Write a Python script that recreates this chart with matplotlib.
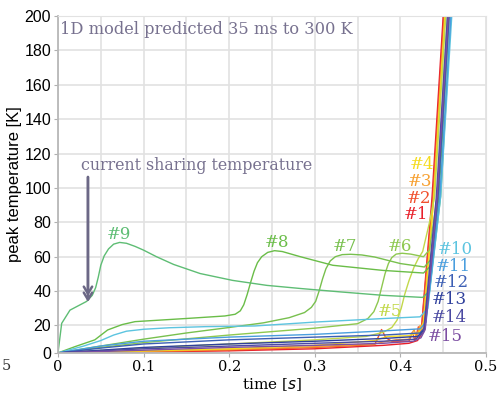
import numpy as np
import matplotlib
matplotlib.use("Agg")
import matplotlib.pyplot as plt

# peak temperature traces for the 15 cases, (time [s], temperature [K])
t1 = [0, 0.1, 0.2, 0.3, 0.38, 0.41, 0.42, 0.424, 0.437, 0.450, 0.455]
T1 = [0, 0.7, 1.5, 3, 5.5, 7, 9, 13, 95, 200, 240]
t2 = [0, 0.1, 0.2, 0.3, 0.37, 0.373, 0.378, 0.383, 0.39, 0.41, 0.414, 0.417, 0.421, 0.424, 0.438, 0.451, 0.456]
T2 = [0, 1, 2, 4, 6, 10, 17, 11, 8.5, 8.5, 15, 9, 19, 13, 95, 200, 240]
t3 = [0, 0.1, 0.2, 0.3, 0.37, 0.38, 0.395, 0.41, 0.416, 0.419, 0.423, 0.426, 0.439, 0.452, 0.457]
T3 = [0, 1.2, 2.5, 4.5, 6.5, 8, 9.5, 10, 17, 11, 20, 15, 95, 200, 240]
t4 = [0, 0.1, 0.2, 0.3, 0.37, 0.385, 0.41, 0.422, 0.427, 0.439, 0.452, 0.457]
T4 = [0, 1.5, 3, 5.5, 9, 12, 12.5, 15, 22, 95, 200, 240]
t5 = [0, 0.1, 0.2, 0.3, 0.36, 0.38, 0.39, 0.396, 0.401, 0.405, 0.41, 0.416, 0.421, 0.426, 0.434, 0.440, 0.453, 0.458]
T5 = [0, 3.5, 6.5, 9.5, 12, 15, 18.5, 23, 30, 38, 46, 54, 59, 63, 80, 95, 200, 240]
t6 = [0, 0.05, 0.1, 0.2, 0.3, 0.35, 0.362, 0.369, 0.374, 0.378, 0.382, 0.386, 0.39, 0.395, 0.402, 0.412, 0.427, 0.434, 0.443, 0.455, 0.46]
T6 = [0, 4, 7.5, 13, 18, 21, 24, 28, 34, 42, 50, 56, 59.5, 61.5, 62, 61.5, 60, 64, 95, 200, 240]
t7 = [0, 0.05, 0.1, 0.15, 0.2, 0.24, 0.27, 0.288, 0.296, 0.301, 0.305, 0.309, 0.313, 0.318, 0.324, 0.332, 0.342, 0.355, 0.37, 0.4, 0.428, 0.435, 0.444, 0.456, 0.461]
T7 = [0, 5, 10, 14.5, 18.5, 21.5, 24.5, 27.5, 30.5, 34, 40, 47, 53, 57.5, 60, 61.2, 61.4, 61, 59.8, 56, 54, 58, 95, 200, 240]
t8 = [0, 0.02, 0.043, 0.058, 0.075, 0.09, 0.152, 0.195, 0.207, 0.213, 0.217, 0.221, 0.225, 0.229, 0.233, 0.238, 0.245, 0.253, 0.262, 0.283, 0.321, 0.38, 0.427, 0.436, 0.445, 0.457, 0.462]
T8 = [0, 4.6, 9.5, 16.7, 20.5, 22.2, 24.1, 25.5, 26.5, 28.5, 32, 38, 45, 51.5, 56.5, 60, 62.5, 63.5, 63, 60, 55, 52, 50.5, 55, 95, 200, 240]
t9 = [0, 0.0043, 0.014, 0.0335, 0.04, 0.044, 0.047, 0.05, 0.054, 0.059, 0.065, 0.072, 0.08, 0.09, 0.1, 0.115, 0.135, 0.166, 0.204, 0.244, 0.283, 0.33, 0.38, 0.426, 0.434, 0.447, 0.459, 0.464]
T9 = [0, 21.2, 28.9, 34, 37.5, 42, 48, 55, 60.5, 64.5, 67.3, 68.3, 67.8, 66, 63.8, 60, 55.5, 50.2, 46.2, 43.3, 41.5, 39.5, 37.5, 36.3, 40, 95, 200, 240]
t10 = [0, 0.03, 0.05, 0.065, 0.08, 0.1, 0.13, 0.172, 0.23, 0.302, 0.38, 0.423, 0.432, 0.447, 0.460, 0.465]
T10 = [0, 5, 9, 13, 15.8, 17.2, 18.3, 19.1, 19.6, 22, 24, 25, 30, 95, 200, 240]
t11 = [0, 0.05, 0.1, 0.2, 0.3, 0.38, 0.423, 0.43, 0.446, 0.459, 0.464]
T11 = [0, 5, 8.5, 11.5, 13.5, 16, 17.5, 22, 95, 200, 240]
t12 = [0, 0.05, 0.1, 0.2, 0.3, 0.38, 0.423, 0.429, 0.444, 0.457, 0.462]
T12 = [0, 3.5, 6.5, 9.5, 11.5, 13, 14.5, 19, 95, 200, 240]
t13 = [0, 0.1, 0.2, 0.3, 0.38, 0.42, 0.428, 0.443, 0.456, 0.461]
T13 = [0, 4, 6.5, 8.5, 10.5, 12, 17, 95, 200, 240]
t14 = [0, 0.1, 0.2, 0.3, 0.38, 0.418, 0.427, 0.442, 0.455, 0.46]
T14 = [0, 3, 5, 7, 8.5, 10, 15, 95, 200, 240]
t15 = [0, 0.1, 0.2, 0.3, 0.38, 0.415, 0.424, 0.429, 0.443, 0.456, 0.461]
T15 = [0, 2, 4, 5.5, 7, 8.5, 11, 17, 95, 200, 240]

times = [t1, t2, t3, t4, t5, t6, t7, t8, t9, t10, t11, t12, t13, t14, t15]
temps = [T1, T2, T3, T4, T5, T6, T7, T8, T9, T10, T11, T12, T13, T14, T15]
names = ['#%d' % i for i in range(1, 16)]

colors = ['#e8202a', '#f0502e', '#f7a030', '#f5dc1e', '#c2d84a', '#8ec850',
          '#78c04e', '#6abd48', '#5ebd74', '#5cc4e0', '#4a9ede', '#3c5fb5',
          '#2f409c', '#4b4aa2', '#7c4ea2']
# where each case label sits (time, temperature)
label_pos = [(0.404, 84.6), (0.408, 93.9), (0.409, 103.8), (0.411, 113.7),
             (0.374, 28.1), (0.3855, 66), (0.321, 66), (0.2418, 68.3),
             (0.0572, 72.9), (0.444, 64.2), (0.4416, 54.3), (0.439, 45),
             (0.437, 35.1), (0.437, 24.7), (0.432, 11.6)]

annot = '#77718f'


# axis squeezes the first 20 K a bit
def fwd(y):
    y = np.asarray(y, dtype=float)
    return np.where(y < 20, y * 0.8, y - 4)


def inv(u):
    u = np.asarray(u, dtype=float)
    return np.where(u < 16, u / 0.8, u + 4)


fig = plt.figure(figsize=(5, 3.93), dpi=100)
ax = fig.add_axes([0.116, 0.102, 0.856, 0.857])
ax.set_yscale('function', functions=(fwd, inv))

for t, T, c in zip(times, temps, colors):
    ax.plot(t, T, color=c, lw=1.0)

for (x, y), n, c in zip(label_pos, names, colors):
    ax.text(x, y, n, color=c, fontsize=12, family='DejaVu Serif', ha='left', va='center')

ax.set_xlim(0, 0.5)
ax.set_ylim(0, 200)
ax.set_xticks(np.arange(0, 0.51, 0.1))
ax.set_xticks(np.arange(0.05, 0.5, 0.1), minor=True)
ax.set_xticklabels(['0', '0.1', '0.2', '0.3', '0.4', '0.5'], family='DejaVu Serif', fontsize=10.5)
ax.set_yticks(np.arange(0, 201, 20))
ax.set_yticklabels([str(v) for v in range(0, 201, 20)], family='Liberation Sans', fontsize=11.5)
ax.tick_params(axis='both', which='both', length=3, color='#b0b0b0', pad=2)
ax.tick_params(axis='x', which='minor', length=0)
ax.grid(True, which='both', color='#e2e2e2', lw=1.2)
ax.set_axisbelow(True)
for s in ['left', 'bottom']:
    ax.spines[s].set_color('#b8b8b8')
    ax.spines[s].set_linewidth(1.3)
for s in ['top', 'right']:
    ax.spines[s].set_color('#e2e2e2')

ax.set_xlabel('time [$s$]', family='DejaVu Serif', fontsize=11, labelpad=2)
ax.set_ylabel('peak temperature [K]', family='Liberation Sans', fontsize=12, labelpad=2)

ax.text(0.005, 0.985, '1D model predicted 35 ms to 300 K', transform=ax.transAxes,
        ha='left', va='top', color=annot, family='DejaVu Serif', fontsize=11.7)
ax.text(0.027, 113, 'current sharing temperature', color=annot,
        family='DejaVu Serif', fontsize=11.4, ha='left', va='center')

# double chevron arrow down to the current sharing point
for tip in [32, 35.5]:
    ax.annotate('', xy=(0.035, tip), xytext=(0.035, 108),
                arrowprops=dict(arrowstyle='->,head_length=0.5,head_width=0.3',
                                color='#6c6886', lw=1.8))

fig.text(0.004, 0.058, '5', family='DejaVu Serif', fontsize=10.5, color='#333333')

fig.savefig('out.png', dpi=100)
